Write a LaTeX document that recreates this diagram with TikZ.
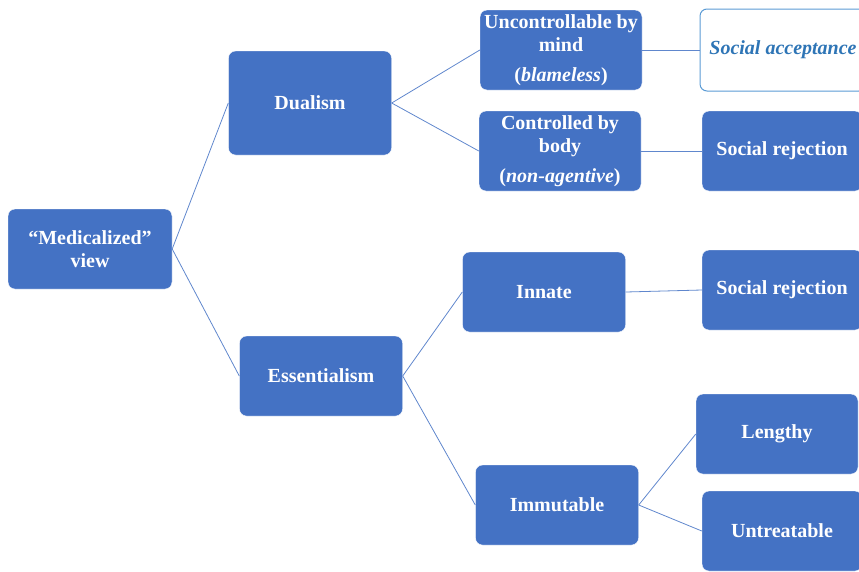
\documentclass[tikz,border=0pt]{standalone}
\usepackage{fontspec}
\setmainfont{Liberation Serif}
\definecolor{boxblue}{HTML}{4472C4}
\definecolor{rimblue}{HTML}{5B9BD5}
\definecolor{textblue}{HTML}{2E75B6}
\begin{document}
\begin{tikzpicture}[%
      x=1pt,y=-1pt,
      box/.style={rectangle,thin,draw=white,fill=boxblue,text=white,align=center,rounded corners=7pt,minimum width=163pt,minimum height=80pt,inner sep=2pt,font=\bfseries\fontsize{20}{23}\selectfont},
      openbox/.style={box,line width=1pt,draw=rimblue,fill=white,text=textblue,font=\bfseries\itshape\fontsize{20}{23}\selectfont},
      link/.style={draw=boxblue!85,line width=0.8pt}
      ]
      \useasboundingbox (0,0) rectangle (859,571);
      \clip (0,0) rectangle (859,571);
      \draw (90,249) node[box,minimum width=164pt] (M) {``Medicalized''\\view};
      \draw (310,103) node[box,minimum height=104pt] (D) {Dualism};
      \draw (321,376) node[box] (E) {Essentialism};
      \draw (561,50) node[box,minimum width=162pt] (U) {Uncontrollable by\\mind\\[7pt](\textit{blameless})};
      \draw (560,151) node[box,minimum width=162pt] (C) {Controlled by\\body\\[7pt](\textit{non-agentive})};
      \draw (783,50) node[openbox,minimum width=166pt,minimum height=82pt] (SA) {Social acceptance};
      \draw (782,151) node[box,minimum width=160pt] (SR1) {Social rejection};
      \draw (544,292) node[box] (I) {Innate};
      \draw (782,290) node[box,minimum width=160pt] (SR2) {Social rejection};
      \draw (557,505) node[box] (IM) {Immutable};
      \draw (777,434) node[box,minimum width=162pt] (L) {Lengthy};
      \draw (782,531) node[box,minimum width=160pt] (UT) {Untreatable};
      \draw[link] (M.east) -- (D.west);
      \draw[link] (M.east) -- (E.west);
      \draw[link] (D.east) -- (U.west);
      \draw[link] (D.east) -- (C.west);
      \draw[link] (U.east) -- (SA.west);
      \draw[link] (C.east) -- (SR1.west);
      \draw[link] (E.east) -- (I.west);
      \draw[link] (E.east) -- (IM.west);
      \draw[link] (I.east) -- (SR2.west);
      \draw[link] (IM.east) -- (L.west);
      \draw[link] (IM.east) -- (UT.west);
    \end{tikzpicture}
\end{document}
